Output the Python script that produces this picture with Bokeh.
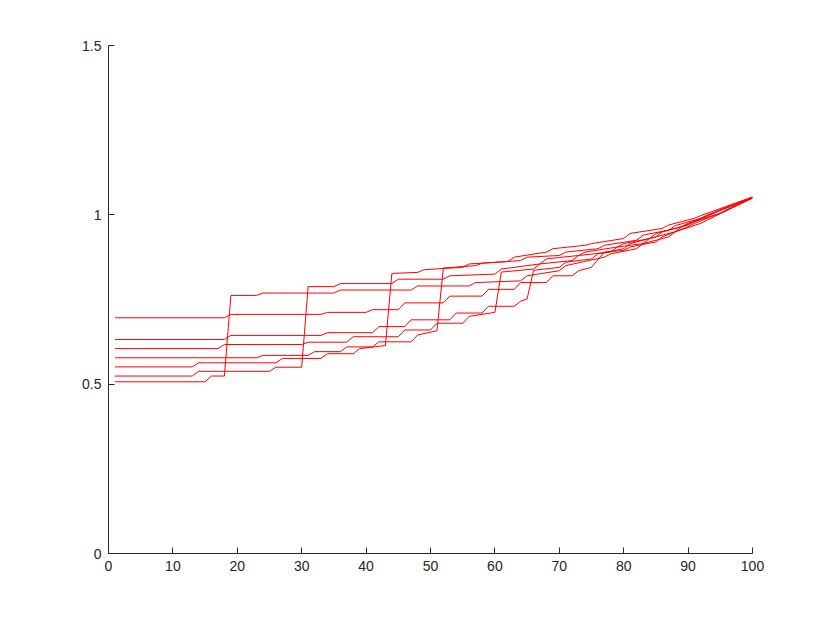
from bokeh.plotting import figure
from bokeh.models import Range1d, FixedTicker
from bokeh.embed import file_html
from bokeh.resources import INLINE

# breakpoints of each series (x, y)
l1_x = [1, 18, 19, 33, 34, 40, 41, 45, 46, 52, 53, 58, 59, 63, 64, 68, 69, 72, 73, 75, 77, 80, 81, 85, 86, 90, 91, 95, 96, 100]
l1_y = [.696, .696, .706, .706, .712, .712, .72, .72, .74, .74, .76, .76, .78, .78, .80, .80, .82, .82, .835, .845, .89, .895, .905, .92, .935, .965, .975, 1.005, 1.013, 1.05]
l2_x = [1, 18, 19, 33, 34, 41, 42, 46, 47, 53, 54, 58, 59, 63, 64, 65, 66, 70, 71, 75, 76, 80, 81, 85, 86, 90, 91, 95, 96, 100]
l2_y = [.632, .632, .644, .644, .652, .652, .67, .67, .69, .69, .71, .71, .73, .73, .745, .752, .836, .845, .86, .87, .885, .90, .915, .935, .95, .97, .98, 1.005, 1.015, 1.05]
l3_x = [1, 17, 18, 30, 31, 37, 38, 45, 46, 50, 51, 55, 56, 60, 61, 66, 67, 72, 73, 78, 79, 83, 84, 88, 89, 93, 94, 100]
l3_y = [.605, .605, .617, .617, .624, .624, .64, .64, .66, .66, .68, .68, .70, .712, .831, .84, .855, .865, .88, .89, .905, .915, .93, .95, .965, .995, 1.005, 1.05]
l4_x = [1, 23, 24, 31, 32, 36, 37, 41, 42, 47, 48, 51, 52, 57, 58, 64, 65, 70, 71, 76, 77, 82, 83, 87, 88, 92, 93, 100]
l4_y = [.578, .578, .585, .585, .596, .596, .61, .61, .625, .625, .645, .658, .843, .85, .857, .865, .875, .88, .89, .90, .91, .925, .94, .955, .968, .99, 1.0, 1.052]
l5_x = [1, 13, 14, 26, 27, 33, 34, 38, 39, 43, 44, 48, 49, 55, 56, 62, 63, 68, 69, 74, 75, 80, 81, 86, 87, 91, 92, 100]
l5_y = [.551, .551, .563, .563, .576, .576, .59, .59, .605, .614, .827, .83, .838, .845, .855, .862, .875, .89, .90, .91, .915, .93, .945, .96, .97, .99, .998, 1.053]
l6_x = [1, 13, 14, 25, 26, 30, 31, 35, 36, 44, 45, 52, 53, 60, 61, 67, 68, 73, 74, 79, 80, 84, 85, 89, 90, 94, 95, 100]
l6_y = [.524, .524, .538, .538, .55, .55, .788, .788, .797, .797, .81, .81, .82, .825, .84, .855, .87, .88, .89, .905, .915, .93, .945, .965, .975, 1.005, 1.015, 1.05]
l7_x = [1, 15, 16, 18, 19, 23, 24, 35, 36, 47, 48, 56, 57, 64, 65, 70, 71, 77, 78, 82, 83, 87, 88, 92, 93, 100]
l7_y = [.507, .507, .524, .524, .762, .762, .769, .769, .778, .778, .79, .79, .80, .805, .82, .835, .85, .875, .885, .90, .915, .935, .95, .975, .985, 1.05]

x_ticks = [0, 10, 20, 30, 40, 50, 60, 70, 80, 90, 100]
y_ticks = [0, 0.5, 1, 1.5]
y_tick_labels = {0: "0", 0.5: "0.5", 1: "1", 1.5: "1.5"}

p = figure(width=822, height=615, output_backend="svg", toolbar_location=None,
           x_range=Range1d(0, 100), y_range=Range1d(0, 1.5),
           min_border_left=108, min_border_right=70, min_border_top=45, min_border_bottom=62)
p.outline_line_color = None
p.xgrid.visible = False
p.ygrid.visible = False

for xs, ys in [(l1_x, l1_y), (l2_x, l2_y), (l3_x, l3_y), (l4_x, l4_y),
               (l5_x, l5_y), (l6_x, l6_y), (l7_x, l7_y)]:
    p.line(xs, ys, line_color="#ff0000", line_width=1)

for ax in (p.xaxis[0], p.yaxis[0]):
    ax.axis_line_color = "#262626"
    ax.major_tick_line_color = "#262626"
    ax.major_tick_in = 6
    ax.major_tick_out = 0
    ax.minor_tick_line_color = None
    ax.major_label_text_font = "Liberation Sans"
    ax.major_label_text_font_size = "14px"
    ax.major_label_text_color = "#262626"
    ax.major_label_standoff = 7

p.xaxis.ticker = FixedTicker(ticks=x_ticks)
p.yaxis.ticker = FixedTicker(ticks=y_ticks)
p.yaxis.major_label_overrides = y_tick_labels

open("out.html", "w").write(file_html(p, INLINE))
